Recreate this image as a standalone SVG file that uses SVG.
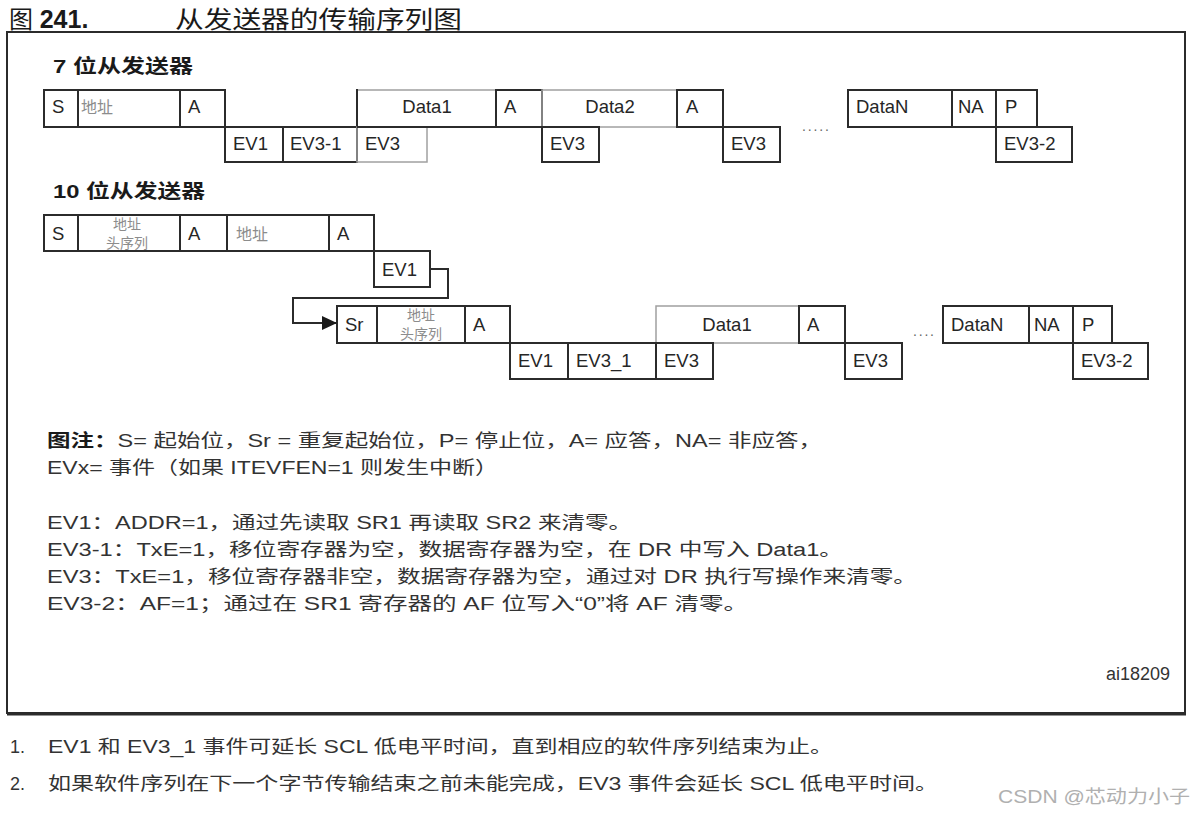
<svg xmlns="http://www.w3.org/2000/svg" width="1196" height="816" viewBox="0 0 1196 816">
<style>
.bg{fill:#ffffff}
.box{fill:none;stroke:#2b2b2b;stroke-width:2}
.lite{fill:none;stroke:#a0a0a0;stroke-width:1.5}
.dk{stroke:#2b2b2b;stroke-width:2;fill:none}
.lbl{font-family:"Liberation Sans","Noto Sans CJK SC",sans-serif;font-size:18.5px;fill:#262626}
.cj{font-family:"Noto Sans CJK SC",sans-serif;font-size:16px;fill:#8c8c8c}
.cs{font-family:"Noto Sans CJK SC",sans-serif;font-size:14px;fill:#8c8c8c}
.hd{font-family:"Liberation Sans","Noto Sans CJK SC",sans-serif;font-size:19px;font-weight:bold;fill:#1a1a1a}
.tx{font-family:"Liberation Sans","Noto Sans CJK SC",sans-serif;font-size:18px;fill:#333333}
.dots{font-family:"Liberation Sans",sans-serif;font-size:14px;fill:#666666}
.conn{fill:none;stroke:#2b2b2b;stroke-width:2}
</style>
<defs>
<marker id="arr" markerWidth="16" markerHeight="16" refX="14" refY="7" orient="auto" markerUnits="userSpaceOnUse">
<polygon points="0,0 15,7 0,14" fill="#1a1a1a"/>
</marker>
</defs>
<rect class="bg" x="0" y="0" width="1196" height="816"/>

<!-- title -->
<g id="title">
<text x="9" y="28" font-family="'Liberation Sans','Noto Sans CJK SC',sans-serif" font-size="24" fill="#1a1a1a">图 <tspan font-weight="bold" font-size="25">241.</tspan></text>
<text x="175" y="28" font-family="'Noto Sans CJK SC',sans-serif" font-size="24" fill="#1a1a1a" textLength="287" lengthAdjust="spacingAndGlyphs">从发送器的传输序列图</text>
</g>

<!-- frame -->
<g id="frame">
<rect x="7" y="32" width="1178" height="681" fill="none" stroke="#2b2b2b" stroke-width="2"/>
<line x1="7" y1="714" x2="1186" y2="714" stroke="#2b2b2b" stroke-width="3"/>
</g>

<!-- 7-bit section -->
<text class="hd" x="53" y="73" textLength="140" lengthAdjust="spacingAndGlyphs">7 位从发送器</text>

<g id="s7">
<rect class="box" x="44" y="90" width="34" height="37"/><text class="lbl" x="52" y="113">S</text>
</g>
<g id="addr7">
<rect class="box" x="78" y="90" width="102" height="37"/><text class="cj" x="81" y="113" font-size="18">地址</text>
</g>
<g id="a7_1">
<rect class="box" x="180" y="90" width="45" height="37"/><text class="lbl" x="188" y="113">A</text>
</g>
<g id="ev1_7">
<rect class="box" x="225" y="127" width="58" height="35"/><text class="lbl" x="233" y="150">EV1</text>
</g>
<g id="ev31_7">
<rect class="box" x="283" y="127" width="74" height="35"/><text class="lbl" x="290" y="150">EV3-1</text>
</g>
<g id="data1_7">
<rect class="lite" x="357" y="90" width="139" height="37"/>
<line class="dk" x1="357" y1="89" x2="357" y2="162"/>
<text class="lbl" x="427" y="113" text-anchor="middle">Data1</text>
</g>
<g id="ev3_7a">
<rect class="lite" x="357" y="127" width="70" height="35"/>
<text class="lbl" x="365" y="150">EV3</text>
</g>
<g id="a7_2">
<rect class="box" x="496" y="90" width="46" height="37"/><text class="lbl" x="504" y="113">A</text>
</g>
<g id="data2_7">
<rect class="lite" x="542" y="90" width="135" height="37"/>
<text class="lbl" x="610" y="113" text-anchor="middle">Data2</text>
</g>
<g id="ev3_7b">
<rect class="box" x="542" y="127" width="57" height="35"/><text class="lbl" x="550" y="150">EV3</text>
</g>
<g id="a7_3">
<rect class="box" x="677" y="90" width="46" height="37"/><text class="lbl" x="686" y="113">A</text>
</g>
<g id="ev3_7c">
<rect class="box" x="723" y="127" width="57" height="35"/><text class="lbl" x="731" y="150">EV3</text>
</g>
<text class="dots" x="802" y="131" textLength="27" lengthAdjust="spacing">.....</text>
<g id="datan_7">
<rect class="box" x="848" y="90" width="104" height="37"/><text class="lbl" x="856" y="113">DataN</text>
</g>
<g id="na_7">
<rect class="box" x="952" y="90" width="44" height="37"/><text class="lbl" x="958" y="113">NA</text>
</g>
<g id="p_7">
<rect class="box" x="996" y="90" width="41" height="37"/><text class="lbl" x="1005" y="113">P</text>
</g>
<g id="ev32_7">
<rect class="box" x="996" y="127" width="76" height="35"/><text class="lbl" x="1004" y="150">EV3-2</text>
</g>
<line class="dk" x1="357" y1="127" x2="599" y2="127"/>

<!-- 10-bit section -->
<text class="hd" x="53" y="198" textLength="152" lengthAdjust="spacingAndGlyphs">10 位从发送器</text>

<g id="s10">
<rect class="box" x="44" y="215" width="34" height="36"/><text class="lbl" x="52" y="240">S</text>
</g>
<g id="hdr10">
<rect class="box" x="78" y="215" width="102" height="36"/>
<text class="cs" text-anchor="middle"><tspan x="127" y="229">地址</tspan><tspan x="127" y="248">头序列</tspan></text>
</g>
<g id="a10_1">
<rect class="box" x="180" y="215" width="47" height="36"/><text class="lbl" x="188" y="240">A</text>
</g>
<g id="addr10">
<rect class="box" x="227" y="215" width="102" height="36"/><text class="cj" x="236" y="240" font-size="18">地址</text>
</g>
<g id="a10_2">
<rect class="box" x="329" y="215" width="45" height="36"/><text class="lbl" x="337" y="240">A</text>
</g>
<g id="ev1_10a">
<rect class="box" x="374" y="251" width="56" height="36"/><text class="lbl" x="382" y="276">EV1</text>
</g>

<g id="sr10">
<rect class="box" x="337" y="306" width="40" height="37"/><text class="lbl" x="345" y="331">Sr</text>
</g>
<g id="hdr10b">
<rect class="box" x="377" y="306" width="88" height="37"/>
<text class="cs" text-anchor="middle"><tspan x="421" y="320">地址</tspan><tspan x="421" y="339">头序列</tspan></text>
</g>
<g id="a10_3">
<rect class="box" x="465" y="306" width="45" height="37"/><text class="lbl" x="473" y="331">A</text>
</g>
<g id="ev1_10b">
<rect class="box" x="510" y="343" width="58" height="36"/><text class="lbl" x="518" y="367">EV1</text>
</g>
<g id="ev3_1_10">
<rect class="box" x="568" y="343" width="88" height="36"/><text class="lbl" x="576" y="367">EV3_1</text>
</g>
<g id="data1_10">
<rect class="lite" x="656" y="306" width="143" height="37"/>
<text class="lbl" x="727" y="331" text-anchor="middle">Data1</text>
</g>
<g id="ev3_10a">
<rect class="box" x="656" y="343" width="57" height="36"/><text class="lbl" x="664" y="367">EV3</text>
</g>
<g id="a10_4">
<rect class="box" x="799" y="306" width="46" height="37"/><text class="lbl" x="807" y="331">A</text>
</g>
<g id="ev3_10b">
<rect class="box" x="845" y="343" width="57" height="36"/><text class="lbl" x="853" y="367">EV3</text>
</g>
<text class="dots" x="913" y="336" textLength="21" lengthAdjust="spacing">....</text>
<g id="datan_10">
<rect class="box" x="943" y="306" width="86" height="37"/><text class="lbl" x="951" y="331">DataN</text>
</g>
<g id="na_10">
<rect class="box" x="1029" y="306" width="44" height="37"/><text class="lbl" x="1034" y="331">NA</text>
</g>
<g id="p_10">
<rect class="box" x="1073" y="306" width="39" height="37"/><text class="lbl" x="1082" y="331">P</text>
</g>
<g id="ev32_10">
<rect class="box" x="1073" y="343" width="75" height="36"/><text class="lbl" x="1081" y="367">EV3-2</text>
</g>

<g id="connectors">
<path class="conn" d="M430,269 H448 V298 H293 V323 H336" marker-end="url(#arr)"/>
</g>

<!-- legend -->
<g id="legend">
<text class="tx" x="47" y="447" textLength="775" lengthAdjust="spacingAndGlyphs"><tspan font-weight="bold" fill="#1a1a1a">图注：</tspan>S= 起始位，Sr = 重复起始位，P= 停止位，A= 应答，NA= 非应答，</text>
<text class="tx" x="47" y="474" textLength="451" lengthAdjust="spacingAndGlyphs">EVx= 事件（如果 ITEVFEN=1 则发生中断）</text>
<text class="tx" x="47" y="529" textLength="585" lengthAdjust="spacingAndGlyphs">EV1：ADDR=1，通过先读取 SR1 再读取 SR2 来清零。</text>
<text class="tx" x="47" y="556" textLength="796" lengthAdjust="spacingAndGlyphs">EV3-1：TxE=1，移位寄存器为空，数据寄存器为空，在 DR 中写入 Data1。</text>
<text class="tx" x="47" y="583" textLength="870" lengthAdjust="spacingAndGlyphs">EV3：TxE=1，移位寄存器非空，数据寄存器为空，通过对 DR 执行写操作来清零。</text>
<text class="tx" x="47" y="610" textLength="701" lengthAdjust="spacingAndGlyphs">EV3-2：AF=1；通过在 SR1 寄存器的 AF 位写入“0”将 AF 清零。</text>
<text class="tx" x="1170" y="680" font-size="15" text-anchor="end">ai18209</text>
</g>

<!-- footnotes -->
<g id="notes">
<text class="tx" x="10" y="753">1.</text>
<text class="tx" x="48" y="753" textLength="785" lengthAdjust="spacingAndGlyphs">EV1 和 EV3_1 事件可延长 SCL 低电平时间，直到相应的软件序列结束为止。</text>
<text class="tx" x="10" y="790">2.</text>
<text class="tx" x="48" y="790" textLength="890" lengthAdjust="spacingAndGlyphs">如果软件序列在下一个字节传输结束之前未能完成，EV3 事件会延长 SCL 低电平时间。</text>
<text x="998" y="803" font-family="'Liberation Sans','Noto Sans CJK SC',sans-serif" font-size="18" fill="#b0b0b0" textLength="192" lengthAdjust="spacingAndGlyphs">CSDN @芯动力小子</text>
</g>
</svg>
